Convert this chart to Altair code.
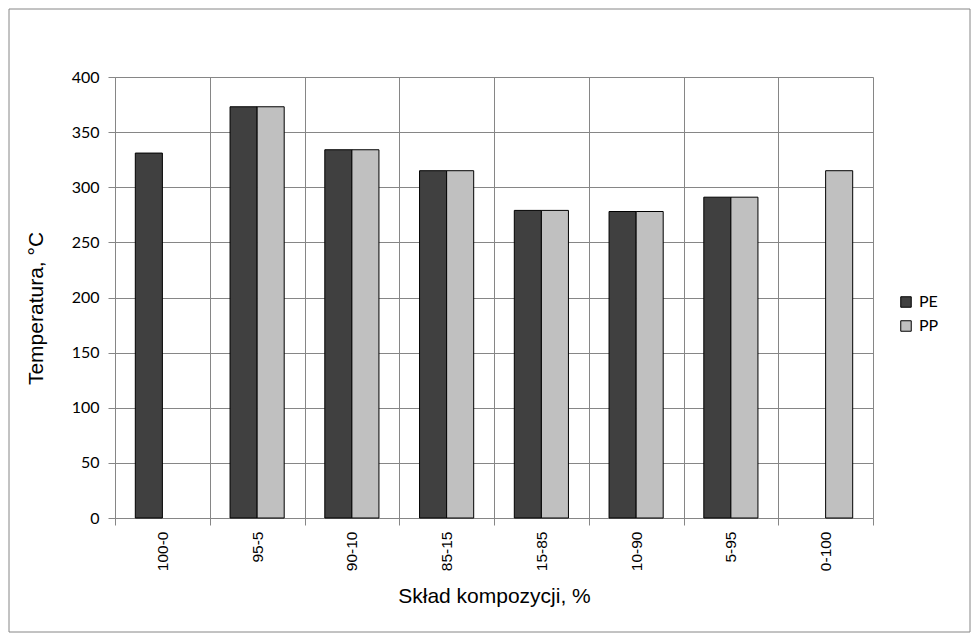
import altair as alt
import pandas as pd

categories = ["100-0", "95-5", "90-10", "85-15", "15-85", "10-90", "5-95", "0-100"]
pe_values = [331, 373, 334, 315, 279, 278, 291, None]
pp_values = [None, 373, 334, 315, 279, 278, 291, 315]
series = ["PE", "PP"]
series_colors = ["#404040", "#c0c0c0"]
y_ticks = [0, 50, 100, 150, 200, 250, 300, 350, 400]

rows = []
for cat, pe, pp in zip(categories, pe_values, pp_values):
    if pe is not None:
        rows.append({"sklad": cat, "seria": "PE", "temp": pe})
    if pp is not None:
        rows.append({"sklad": cat, "seria": "PP", "temp": pp})
df = pd.DataFrame(rows)

GRAY = "#868686"

bars = alt.Chart(df).mark_bar(stroke="black", strokeWidth=1).encode(
    x=alt.X(
        "sklad:N",
        sort=categories,
        scale=alt.Scale(domain=categories, paddingInner=0, paddingOuter=0),
        axis=alt.Axis(
            title="Skład kompozycji, %",
            titleFont="Liberation Sans",
            titleFontSize=21,
            titleFontWeight="normal",
            titleColor="black",
            titleY=67,
            labelAngle=270,
            labelFont="Liberation Sans",
            labelFontSize=15.5,
            labelColor="black",
            labelPadding=6,
            tickBand="extent",
            tickSize=7,
            tickColor=GRAY,
            domainColor=GRAY,
            grid=True,
            gridColor=GRAY,
            gridOpacity=1,
        ),
    ),
    xOffset=alt.XOffset(
        "seria:N",
        scale=alt.Scale(domain=series, paddingInner=0, paddingOuter=0.75),
    ),
    y=alt.Y(
        "temp:Q",
        scale=alt.Scale(domain=[0, 400], nice=False),
        axis=alt.Axis(
            values=y_ticks,
            title="Temperatura, °C",
            titleFont="Liberation Sans",
            titleFontSize=21,
            titleFontWeight="normal",
            titleColor="black",
            titleX=-69,
            titleY=231,
            labelFont="Lato",
            labelFontSize=16,
            labelColor="black",
            labelPadding=9,
            tickSize=7,
            tickColor=GRAY,
            domainColor=GRAY,
            grid=True,
            gridColor=GRAY,
            gridOpacity=1,
        ),
    ),
    color=alt.Color(
        "seria:N",
        scale=alt.Scale(domain=series, range=series_colors),
        legend=alt.Legend(
            title=None,
            orient="none",
            legendX=783,
            legendY=217,
            symbolType="square",
            symbolSize=110,
            symbolStrokeColor="black",
            symbolStrokeWidth=1,
            symbolOpacity=1,
            labelFont="Lato",
            labelFontSize=16,
            labelColor="black",
            labelOffset=5,
            rowPadding=8,
        ),
    ),
)

frame = alt.Chart(pd.DataFrame({"k": [0]})).mark_rect(
    fill="transparent", stroke=GRAY, strokeWidth=1
).encode(
    x=alt.value(-106), x2=alt.value(855), y=alt.value(-68), y2=alt.value(555)
)

chart = alt.layer(frame, bars).properties(
    width=758,
    height=441,
    padding={"left": 107, "top": 69, "right": 99, "bottom": 115},
    autosize=alt.AutoSizeParams(type="none"),
).configure_view(stroke=GRAY, strokeWidth=1).configure(background="white")

chart.save("out.html", embed_options={"renderer": "svg", "actions": False})
